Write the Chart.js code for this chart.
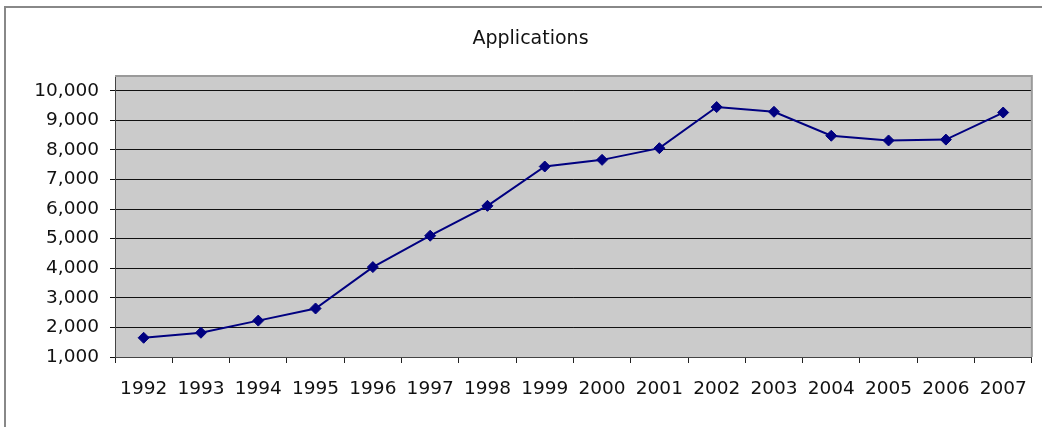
<!DOCTYPE html>
<html>
<head>
<meta charset="utf-8">
<script src="https://cdn.jsdelivr.net/npm/chart.js@4/dist/chart.umd.min.js"></script>
<style>
  html, body { margin: 0; padding: 0; background: #fff; overflow: hidden; }
  #frame { position: absolute; left: 4px; top: 6px; width: 1100px; height: 500px;
           border-top: 2px solid #888; border-left: 2px solid #888; box-sizing: border-box; }
  #wrap { position: absolute; left: 0; top: 0; width: 1042px; height: 427px; }
</style>
</head>
<body>
<div id="frame"></div>
<div id="wrap"><canvas id="apps"></canvas></div>
<script>
  // values
  const YEARS = ['1992', '1993', '1994', '1995', '1996', '1997', '1998', '1999',
                 '2000', '2001', '2002', '2003', '2004', '2005', '2006', '2007'];
  const APPLICATIONS = [1650, 1820, 2230, 2640, 4040, 5100, 6110, 7440,
                        7665, 8060, 9450, 9290, 8480, 8320, 8350, 9265];
  const Y_TICKS = [1000, 2000, 3000, 4000, 5000, 6000, 7000, 8000, 9000, 10000];
  const Y_MIN = 1000;
  const Y_MAX = 10500;

  const FONT = "'DejaVu Sans', Verdana, sans-serif";
  const NAVY = '#000080';

  // grey plot area with a light frame, Excel style
  const plotArea = {
    id: 'plotArea',
    beforeDraw(chart) {
      const { ctx, chartArea: a } = chart;
      ctx.save();
      ctx.fillStyle = '#cbcbcb';
      ctx.fillRect(a.left, a.top, a.right - a.left, a.bottom - a.top);
      ctx.restore();
    },
    afterDatasetsDraw(chart) {
      const { ctx, chartArea: a } = chart;
      ctx.save();
      ctx.strokeStyle = '#9a9a9a';
      ctx.lineWidth = 2;
      ctx.beginPath();
      ctx.moveTo(a.left, a.top);
      ctx.lineTo(a.right, a.top);
      ctx.lineTo(a.right, a.bottom);
      ctx.stroke();
      ctx.restore();
    },
  };

  new Chart(document.getElementById('apps'), {
    type: 'line',
    data: {
      labels: YEARS,
      datasets: [{
        label: 'Applications',
        data: APPLICATIONS,
        borderColor: NAVY,
        backgroundColor: NAVY,
        borderWidth: 2,
        pointStyle: 'rectRot',
        pointRadius: 5.5,
        pointBackgroundColor: NAVY,
        pointBorderColor: NAVY,
        pointBorderWidth: 1,
        tension: 0,
      }],
    },
    options: {
      responsive: true,
      maintainAspectRatio: false,
      animation: false,
      // left padding pushes the title centre to the right, y axis width compensates
      layout: { padding: { left: 28, right: 9, top: 0, bottom: 0 } },
      plugins: {
        legend: { display: false },
        tooltip: { enabled: false },
        title: {
          display: true,
          text: 'Applications',
          color: '#111',
          font: { family: FONT, size: 19, weight: 'normal' },
          padding: { top: 28, bottom: 25.2 },
        },
      },
      scales: {
        x: {
          type: 'category',
          offset: true,
          grid: { offset: true, drawOnChartArea: false, tickLength: 6, color: '#222' },
          border: { color: '#444', width: 1 },
          ticks: { color: '#111', padding: 15, maxRotation: 0, autoSkip: false,
                   font: { family: FONT, size: 18.5 } },
          afterFit: s => { s.height = 70; },
        },
        y: {
          min: Y_MIN,
          max: Y_MAX,
          grid: { color: '#111', tickLength: 5 },
          border: { color: '#444', width: 1 },
          ticks: {
            color: '#111',
            padding: 11,
            font: { family: FONT, size: 18.5 },
            callback: v => v.toLocaleString('en-US'),
          },
          afterBuildTicks: s => { s.ticks = Y_TICKS.map(v => ({ value: v })); },
          afterFit: s => { s.width = 87; },
        },
      },
    },
    plugins: [plotArea],
  });
</script>
</body>
</html>
